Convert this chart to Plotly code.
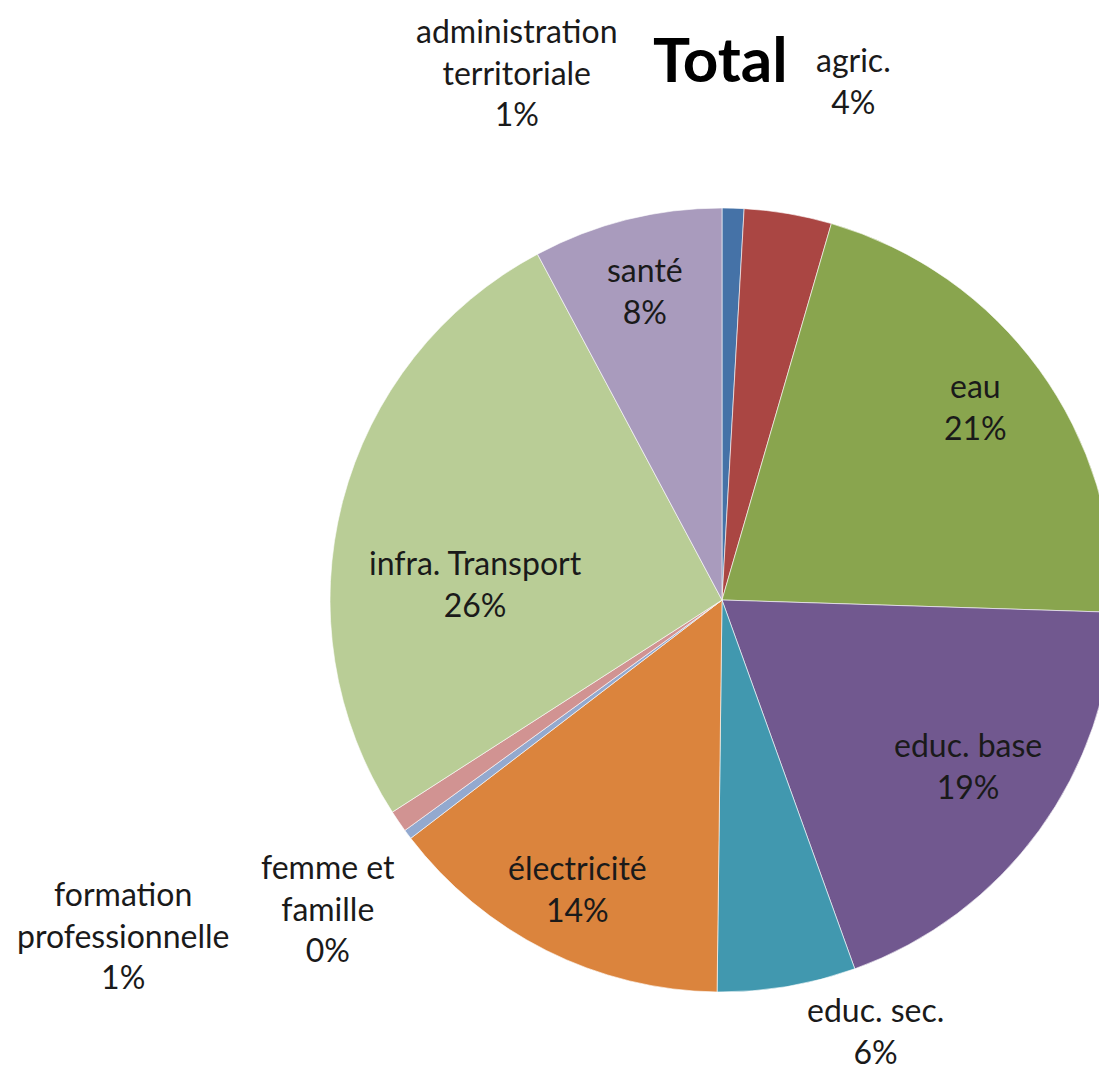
import plotly.graph_objects as go

categories = ["administration territoriale", "agric.", "eau", "educ. base", "educ. sec.",
              "électricité", "femme et famille", "formation professionnelle",
              "infra. Transport", "santé"]
label_lines = ["administration<br>territoriale", "agric.", "eau", "educ. base", "educ. sec.",
               "électricité", "femme et<br>famille", "formation<br>professionnelle",
               "infra. Transport", "santé"]
values = [0.9, 3.6, 21.0, 19.0, 5.7, 14.4, 0.4, 0.9, 26.3, 7.8]
colors = ["#4572A7", "#AA4643", "#89A54E", "#71588F", "#4198AF",
          "#DB843D", "#93A9CF", "#D19392", "#B9CD96", "#A99BBD"]
# label centre positions in pixels (x, y from top)
label_pos = [(517, 72), (853, 80), (975, 407), (968, 765), (875, 1030),
             (578, 888), (328, 908), (123, 935), (475, 583), (645, 290)]

W, H = 1116, 1074  # slightly wider than the window: the pie is cropped at the right edge
FONT = "Lato"

fig = go.Figure(go.Pie(
    labels=categories, values=values, sort=False, direction="clockwise", rotation=0,
    marker=dict(colors=colors, line=dict(color="white", width=0.6)),
    textinfo="none", hoverinfo="label+percent", showlegend=False,
    domain=dict(x=[330 / W, 1114 / W], y=[82 / H, 866 / H]),
))

total = sum(values)
for lab, v, (px, py) in zip(label_lines, values, label_pos):
    fig.add_annotation(x=px / W, y=1 - py / H, xref="paper", yref="paper",
                       text=f"{lab}<br>{round(v / total * 100)}%", showarrow=False,
                       xanchor="center", yanchor="middle", align="center",
                       font=dict(family=FONT, size=32, color="#1a1a1a"))

fig.add_annotation(x=720 / W, y=1 - 58 / H, xref="paper", yref="paper", text="<b>Total</b>",
                   showarrow=False, xanchor="center", yanchor="middle",
                   font=dict(family=FONT, size=62, color="black"))

fig.update_layout(width=W, height=H, margin=dict(l=0, r=0, t=0, b=0),
                  paper_bgcolor="white", plot_bgcolor="white")
fig.write_html("out.html", config={"displayModeBar": False},
               post_script="document.body.style.margin='0';document.body.style.overflow='hidden';")
